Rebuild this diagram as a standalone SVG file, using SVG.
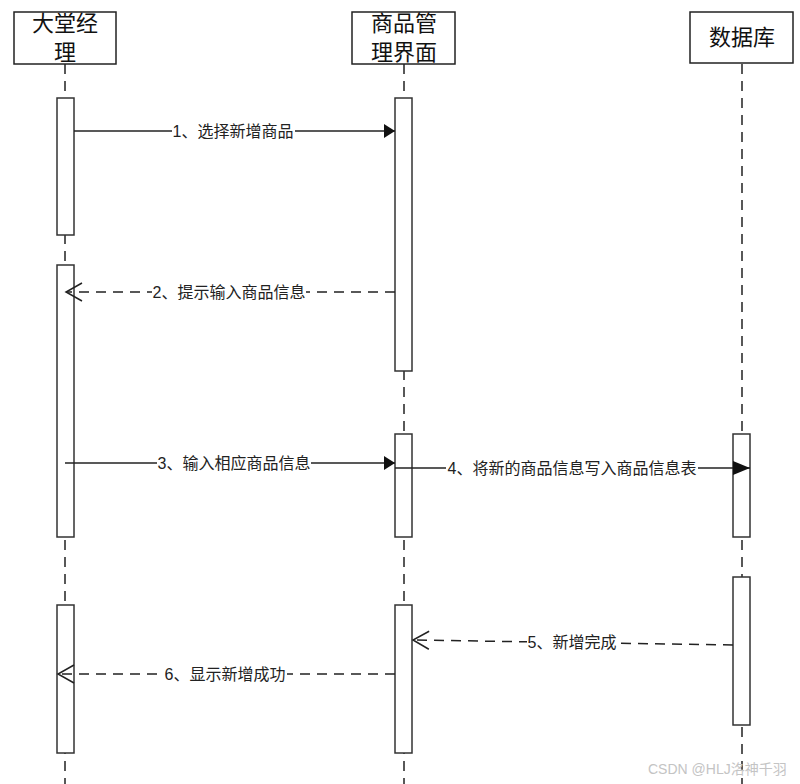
<svg xmlns="http://www.w3.org/2000/svg" width="800" height="784" viewBox="0 0 800 784">
<style>
.box{fill:#fff;stroke:#222;stroke-width:1.5}
.bar{fill:#fff;stroke:#333;stroke-width:1.5}
.life{stroke:#222;stroke-width:1.5;stroke-dasharray:10 7;fill:none}
.head{font-family:"Liberation Serif","Noto Sans CJK SC",serif;font-size:22px;fill:#111;text-anchor:middle}
.msg{stroke:#222;stroke-width:1.5;fill:none}
.dash{stroke-dasharray:10 7}
.lbl{font-family:"Liberation Sans","Noto Sans CJK SC",sans-serif;font-size:16px;fill:#222;text-anchor:middle}
.lbg{fill:#fff}
.wm{font-family:"Liberation Sans","Noto Sans CJK SC",sans-serif;font-size:14px;fill:#c4c4c4}
</style>
<defs>
<marker id="fill" markerUnits="userSpaceOnUse" markerWidth="12" markerHeight="16" refX="11" refY="7" orient="auto">
<path d="M0,0 L11,7 L0,14 z" fill="#111"/>
</marker>
<marker id="fillBig" markerUnits="userSpaceOnUse" markerWidth="18" markerHeight="16" refX="17" refY="7" orient="auto">
<path d="M0,0 L17,7 L0,14 z" fill="#111"/>
</marker>
<marker id="open" markerUnits="userSpaceOnUse" markerWidth="20" markerHeight="22" refX="17" refY="10" orient="auto">
<path d="M1,1 L17,10 L1,19" fill="none" stroke="#222" stroke-width="1.5"/>
</marker>
</defs>

<g id="lifelines">
<line class="life" x1="65" y1="64" x2="65" y2="784"/>
<line class="life" x1="404" y1="64" x2="404" y2="784"/>
<line class="life" x1="742" y1="64" x2="742" y2="784"/>
</g>

<g id="actor-manager">
<rect class="box" x="14" y="12" width="102" height="52"/>
<text class="head" x="65" y="31">大堂经</text>
<text class="head" x="65" y="60">理</text>
<rect class="bar" x="57" y="98" width="17" height="137"/>
<rect class="bar" x="57" y="265" width="17" height="272"/>
<rect class="bar" x="57" y="605" width="17" height="148"/>
</g>

<g id="goods-ui">
<rect class="box" x="352" y="12" width="103" height="52"/>
<text class="head" x="404" y="31">商品管</text>
<text class="head" x="404" y="60">理界面</text>
<rect class="bar" x="395" y="98" width="17" height="273"/>
<rect class="bar" x="395" y="434" width="17" height="103"/>
<rect class="bar" x="395" y="605" width="17" height="148"/>
</g>

<g id="database">
<rect class="box" x="690" y="12" width="103" height="51"/>
<text class="head" x="742" y="45">数据库</text>
<rect class="bar" x="733" y="434" width="17" height="103"/>
<rect class="bar" x="733" y="577" width="17" height="148"/>
</g>

<g id="connectors">
<line class="msg" x1="74" y1="131" x2="395" y2="131" marker-end="url(#fill)"/>
<rect class="lbg" x="172" y="122" width="123" height="18"/>
<text class="lbl" x="233" y="137">1、选择新增商品</text>

<line class="msg dash" x1="395" y1="292" x2="66" y2="292" marker-end="url(#open)"/>
<rect class="lbg" x="152" y="283" width="154" height="18"/>
<text class="lbl" x="229" y="298">2、提示输入商品信息</text>

<line class="msg" x1="65" y1="463" x2="395" y2="463" marker-end="url(#fill)"/>
<rect class="lbg" x="157" y="454" width="154" height="18"/>
<text class="lbl" x="234" y="469">3、输入相应商品信息</text>

<line class="msg" x1="395" y1="468" x2="750" y2="468" marker-end="url(#fillBig)"/>
<rect class="lbg" x="446" y="459" width="252" height="18"/>
<text class="lbl" x="572" y="474">4、将新的商品信息写入商品信息表</text>

<line class="msg dash" x1="733" y1="645" x2="413" y2="640" marker-end="url(#open)"/>
<rect class="lbg" x="527" y="633" width="90" height="18"/>
<text class="lbl" x="572" y="648">5、新增完成</text>

<line class="msg dash" x1="395" y1="674" x2="58" y2="674" marker-end="url(#open)"/>
<rect class="lbg" x="164" y="665" width="123" height="18"/>
<text class="lbl" x="225" y="680">6、显示新增成功</text>
</g>

<text class="wm" x="648" y="774">CSDN @HLJ洛神千羽</text>
</svg>
